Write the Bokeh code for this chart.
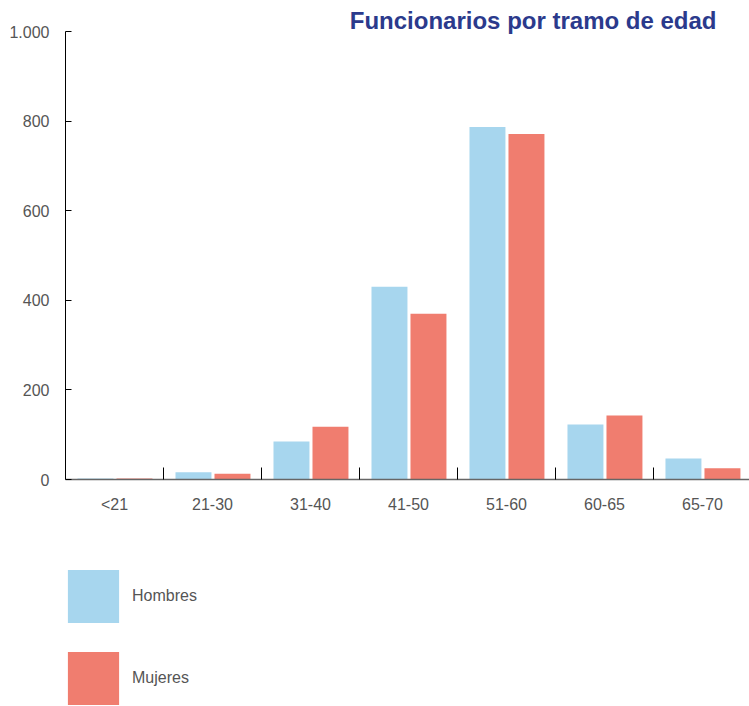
from bokeh.plotting import figure
from bokeh.models import (ColumnDataSource, FixedTicker, Legend, LegendItem, Range1d)
from bokeh.layouts import column
from bokeh.embed import file_html
from bokeh.resources import INLINE

categories = ["<21", "21-30", "31-40", "41-50", "51-60", "60-65", "65-70"]
hombres = [2, 16, 85, 430, 787, 123, 47]
mujeres = [2, 13, 118, 370, 771, 143, 25]
y_ticks = [0, 200, 400, 600, 800, 1000]
y_tick_labels = ["0", "200", "400", "600", "800", "1.000"]
series_names = ["Hombres", "Mujeres"]

BLUE = "#A7D6EE"
SALMON = "#F07D6F"
NAVY = "#2B3A8C"
GRAY = "#555555"
FONT = "Liberation Sans"

idx = list(range(len(categories)))
src = ColumnDataSource(dict(
    xh=[i + 0.306 for i in idx],
    xm=[i + 0.704 for i in idx],
    h=hombres, m=mujeres,
))

p = figure(width=749, height=529, output_backend="svg", toolbar_location=None,
           x_range=Range1d(0, 6.98), y_range=Range1d(0, 1000),
           min_border_left=65, min_border_right=0, min_border_top=31,
           min_border_bottom=50)
p.outline_line_color = None
p.grid.grid_line_color = None
p.background_fill_color = None

p.title.text = "Funcionarios por tramo de edad"
p.title.text_font = FONT
p.title.text_font_size = "24px"
p.title.text_font_style = "bold"
p.title.text_color = NAVY
p.title.align = "right"
p.title.standoff = -4
p.title.offset = 33

p.vbar(x="xh", top="h", width=0.367, source=src, fill_color=BLUE, line_color=None)
p.vbar(x="xm", top="m", width=0.367, source=src, fill_color=SALMON, line_color=None)

# y axis
ya = p.yaxis[0]
ya.ticker = FixedTicker(ticks=y_ticks)
ya.major_label_overrides = {t: l for t, l in zip(y_ticks, y_tick_labels)}
ya.major_tick_in = 6
ya.major_tick_out = 0
ya.minor_tick_line_color = None
ya.axis_line_color = "black"
ya.major_tick_line_color = "black"
ya.major_label_standoff = 16
ya.major_label_text_font = FONT
ya.major_label_text_font_size = "16px"
ya.major_label_text_color = GRAY

# x axis
xa = p.xaxis[0]
centers = [i + 0.5 for i in idx]
bounds = [i for i in range(1, len(categories) + 1)]
xa.ticker = FixedTicker(ticks=centers, minor_ticks=bounds)
xa.major_label_overrides = {c: l for c, l in zip(centers, categories)}
xa.major_tick_line_color = None
xa.minor_tick_in = 12
xa.minor_tick_out = 0
xa.minor_tick_line_color = "black"
xa.axis_line_color = "#666666"
xa.axis_line_width = 1.5
xa.major_label_standoff = 10
xa.major_label_text_font = FONT
xa.major_label_text_font_size = "16px"
xa.major_label_text_color = GRAY

# legend figure
p2 = figure(width=749, height=177, output_backend="svg", toolbar_location=None,
            x_range=Range1d(0, 1), y_range=Range1d(0, 1),
            x_axis_type=None, y_axis_type=None,
            min_border_left=0, min_border_right=0, min_border_top=0,
            min_border_bottom=0)
p2.outline_line_color = None
p2.grid.grid_line_color = None
lh = p2.vbar(x="xh", top="h", width=0.367, source=src, fill_color=BLUE, line_color=None)
lm = p2.vbar(x="xm", top="m", width=0.367, source=src, fill_color=SALMON, line_color=None)
lh.visible = False
lm.visible = False

legend = Legend(items=[LegendItem(label=series_names[0], renderers=[lh]),
                       LegendItem(label=series_names[1], renderers=[lm])],
                orientation="vertical", location=(-4, -5),
                glyph_width=64, glyph_height=66, spacing=16,
                label_standoff=7, padding=0, margin=0,
                label_text_font=FONT, label_text_font_size="16px",
                label_text_color=GRAY, inactive_fill_alpha=0,
                border_line_color=None, background_fill_color=None)
p2.add_layout(legend, "center")

layout = column(p, p2, spacing=0)
open("out.html", "w").write(file_html(layout, INLINE))
